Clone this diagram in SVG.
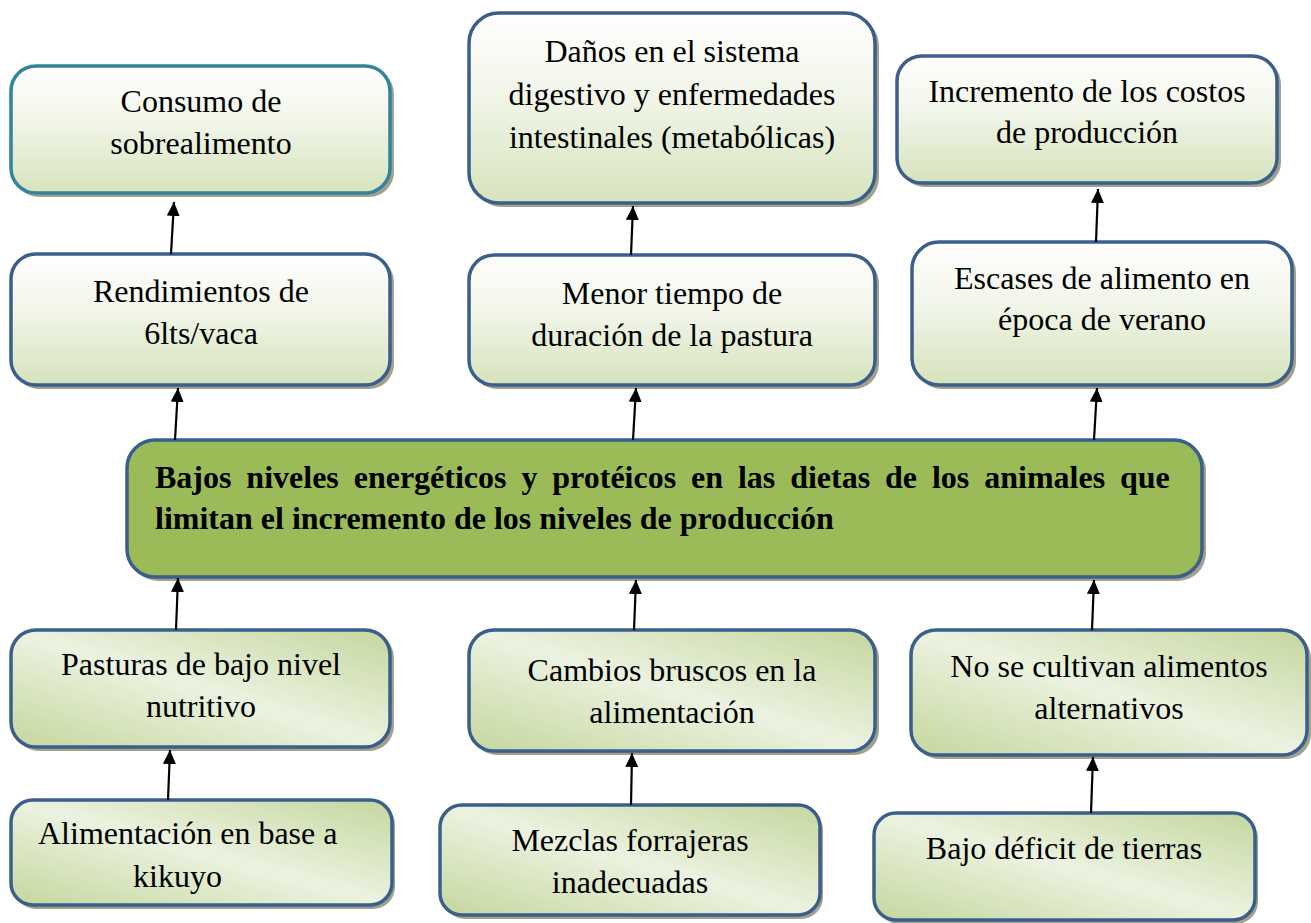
<svg xmlns="http://www.w3.org/2000/svg" width="1311" height="923" viewBox="0 0 1311 923">
<defs>
<linearGradient id="gTop" x1="0" y1="0" x2="0" y2="1">
<stop offset="0" stop-color="#FFFFFF"/>
<stop offset="0.45" stop-color="#F1F5E8"/>
<stop offset="1" stop-color="#D6E3BC"/>
</linearGradient>
<linearGradient id="gDiag" x1="0" y1="1" x2="1" y2="0">
<stop offset="0" stop-color="#C4D79E"/>
<stop offset="0.5" stop-color="#ECF2E0"/>
<stop offset="1" stop-color="#C4D79E"/>
</linearGradient>
<marker id="ah" markerUnits="userSpaceOnUse" markerWidth="14" markerHeight="14" refX="14" refY="6.5" orient="auto">
<path d="M0,0 L14,6.5 L0,13 z" fill="#000"/>
</marker>
<style>
.sh{fill:#A2A28C;}
.bt{fill:url(#gTop);stroke:#3A5F8C;stroke-width:3.5;}
.bd{fill:url(#gDiag);stroke:#3A5F8C;stroke-width:3.5;}
.t{font-family:"Liberation Serif","Times New Roman",serif;font-size:32px;fill:#000;text-anchor:middle;}
.tl{font-family:"Liberation Serif","Times New Roman",serif;font-size:32px;fill:#000;}
.tb{font-family:"Liberation Serif","Times New Roman",serif;font-size:32px;font-weight:bold;fill:#000;}
.c{stroke:#000;stroke-width:2.2;fill:none;marker-end:url(#ah);}
</style>
</defs>
<rect width="1311" height="923" fill="#FFFFFF"/>

<g id="consumo">
<rect class="sh" x="14" y="69" width="380" height="128" rx="25"/>
<rect class="bt" x="11" y="66" width="379" height="127" rx="25" style="stroke:#31849B"/>
<text class="t" x="201" y="112">Consumo de</text>
<text class="t" x="201" y="154">sobrealimento</text>
</g>

<g id="danos">
<rect class="sh" x="472" y="16" width="407" height="191" rx="30"/>
<rect class="bt" x="469" y="13" width="406" height="190" rx="30"/>
<text class="t" x="672" y="62">Daños en el sistema</text>
<text class="t" x="672" y="105">digestivo y enfermedades</text>
<text class="t" x="672" y="148">intestinales (metabólicas)</text>
</g>

<g id="incremento">
<rect class="sh" x="900" y="59" width="381" height="128" rx="25"/>
<rect class="bt" x="897" y="56" width="380" height="127" rx="25"/>
<text class="t" x="1087" y="102">Incremento de los costos</text>
<text class="t" x="1087" y="143">de producción</text>
</g>

<g id="rendimientos">
<rect class="sh" x="14" y="257" width="380" height="132" rx="25"/>
<rect class="bt" x="11" y="254" width="379" height="131" rx="25"/>
<text class="t" x="201" y="302">Rendimientos de</text>
<text class="t" x="201" y="344">6lts/vaca</text>
</g>

<g id="menor">
<rect class="sh" x="472" y="258" width="407" height="131" rx="25"/>
<rect class="bt" x="469" y="255" width="406" height="130" rx="25"/>
<text class="t" x="672" y="304">Menor tiempo de</text>
<text class="t" x="672" y="346">duración de la pastura</text>
</g>

<g id="escases">
<rect class="sh" x="915" y="245" width="381" height="144" rx="27"/>
<rect class="bt" x="912" y="242" width="380" height="143" rx="27"/>
<text class="t" x="1102" y="289">Escases de alimento en</text>
<text class="t" x="1102" y="330">época de verano</text>
</g>

<g id="central">
<rect class="sh" x="130" y="443" width="1076" height="138" rx="28"/>
<rect x="127" y="440" width="1075" height="137" rx="28" fill="#9BBB59" stroke="#3A5F8C" stroke-width="3.5"/>
<text class="tb" x="155" y="488" word-spacing="6.9">Bajos niveles energéticos y protéicos en las dietas de los animales que</text>
<text class="tb" x="155" y="529">limitan el incremento de los niveles de producción</text>
</g>

<g id="pasturas">
<rect class="sh" x="14" y="633" width="380" height="118" rx="25"/>
<rect class="bd" x="11" y="630" width="379" height="117" rx="25"/>
<text class="t" x="201" y="675">Pasturas de bajo nivel</text>
<text class="t" x="201" y="717">nutritivo</text>
</g>

<g id="cambios">
<rect class="sh" x="472" y="633" width="407" height="122" rx="25"/>
<rect class="bd" x="469" y="630" width="406" height="121" rx="25"/>
<text class="t" x="672" y="681">Cambios bruscos en la</text>
<text class="t" x="672" y="723">alimentación</text>
</g>

<g id="noSe">
<rect class="sh" x="914" y="633" width="397" height="126" rx="25"/>
<rect class="bd" x="911" y="630" width="396" height="125" rx="25"/>
<text class="t" x="1109" y="677">No se cultivan alimentos</text>
<text class="t" x="1109" y="719">alternativos</text>
</g>

<g id="alimentacion">
<rect class="sh" x="14" y="803" width="381" height="106" rx="22"/>
<rect class="bd" x="11" y="800" width="381" height="105" rx="22"/>
<text class="tl" x="38" y="844">Alimentación en base a</text>
<text class="tl" x="133" y="887">kikuyo</text>
</g>

<g id="mezclas">
<rect class="sh" x="443" y="808" width="380" height="111" rx="22"/>
<rect class="bd" x="440" y="805" width="380" height="110" rx="22"/>
<text class="t" x="630" y="851">Mezclas forrajeras</text>
<text class="t" x="630" y="893">inadecuadas</text>
</g>

<g id="bajoDeficit">
<rect class="sh" x="877" y="816" width="381" height="108" rx="22"/>
<rect class="bd" x="874" y="813" width="381" height="107" rx="22"/>
<text class="t" x="1064" y="859">Bajo déficit de tierras</text>
</g>

<g id="connectors">
<line class="c" x1="171" y1="254" x2="174" y2="202"/>
<line class="c" x1="631" y1="255" x2="633" y2="206"/>
<line class="c" x1="1096" y1="242" x2="1098" y2="189"/>
<line class="c" x1="175" y1="440" x2="178" y2="388"/>
<line class="c" x1="633" y1="440" x2="636" y2="388"/>
<line class="c" x1="1094" y1="440" x2="1097" y2="388"/>
<line class="c" x1="176" y1="630" x2="178" y2="578"/>
<line class="c" x1="634" y1="630" x2="636" y2="580"/>
<line class="c" x1="1092" y1="630" x2="1094" y2="580"/>
<line class="c" x1="168" y1="800" x2="170" y2="750"/>
<line class="c" x1="631" y1="805" x2="632" y2="753"/>
<line class="c" x1="1091" y1="813" x2="1093" y2="757"/>
</g>
</svg>
